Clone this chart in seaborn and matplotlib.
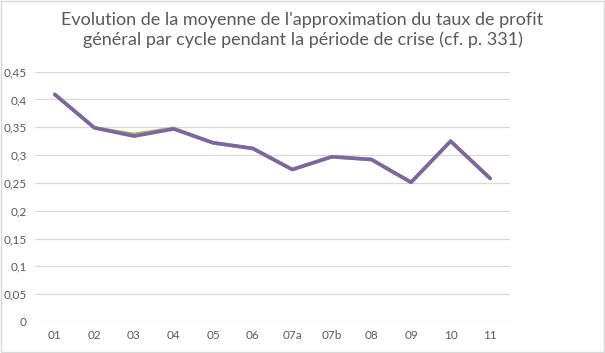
import numpy as np
import pandas as pd
import seaborn as sns
import matplotlib.pyplot as plt
from matplotlib.patches import Rectangle

# Data
cycles = ["01", "02", "03", "04", "05", "06", "07a", "07b", "08", "09", "10", "11"]
taux_a = [0.409, 0.349, 0.337, 0.348, 0.322, 0.312, 0.274, 0.297, 0.292, 0.251, 0.325, 0.258]
taux_b = [0.409, 0.349, 0.334, 0.347, 0.322, 0.312, 0.274, 0.297, 0.292, 0.251, 0.325, 0.258]
yticks = [0, 0.05, 0.1, 0.15, 0.2, 0.25, 0.3, 0.35, 0.4, 0.45]

df = pd.DataFrame({"cycle": cycles, "a": taux_a, "b": taux_b})

sns.set_theme(style="white")
plt.rcParams["font.family"] = ["Lato", "DejaVu Sans"]

fig = plt.figure(figsize=(6.05, 3.53), dpi=100)
ax = fig.add_axes([35 / 605, 1 - 322 / 353, 475 / 605, 250.4 / 353])

sns.lineplot(x=np.arange(len(cycles)), y=df["a"], color="#9BBB59", linewidth=2.6, ax=ax)
sns.lineplot(x=np.arange(len(cycles)), y=df["b"], color="#8064A2", linewidth=2.6, ax=ax)

ax.set_xlim(-0.5, len(cycles) - 0.5)
ax.set_ylim(0, 0.45)
ax.set_yticks(yticks)
ax.set_yticklabels([("%g" % v).replace(".", ",") for v in yticks])
ax.set_xticks(np.arange(len(cycles)))
ax.set_xticklabels(cycles)
ax.tick_params(axis="both", length=0, labelsize=8.5, labelcolor="#595959")
ax.tick_params(axis="y", pad=6)
ax.tick_params(axis="x", pad=6)
ax.grid(axis="y", color="#D9D9D9", linewidth=0.9)
ax.set_axisbelow(True)
for s in ax.spines.values():
    s.set_visible(False)
ax.set_xlabel("")
ax.set_ylabel("")

fig.text(0.5, 0.965, "Evolution de la moyenne de l'approximation du taux de profit\n"
         "général par cycle pendant la période de crise (cf. p. 331)",
         ha="center", va="top", fontsize=13, color="#595959", linespacing=1.25)

fig.patches.append(Rectangle((0.002, 0.003), 0.996, 0.994, transform=fig.transFigure,
                             fill=False, edgecolor="#D9D9D9", linewidth=1))

fig.savefig("out.png", dpi=100)
